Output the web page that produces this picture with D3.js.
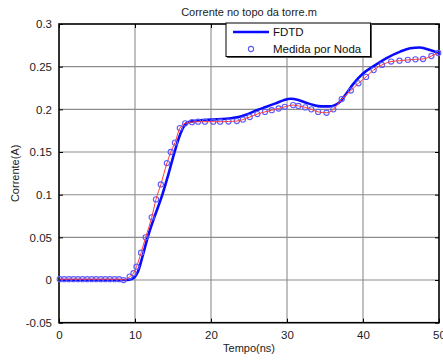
<!DOCTYPE html>
<html>
<head>
<meta charset="utf-8">
<script src="https://cdn.jsdelivr.net/npm/d3@7"></script>
<style>
  body { margin: 0; background: #fff; }
  svg { display: block; font-family: "Liberation Sans", Arial, sans-serif; }
</style>
</head>
<body>
<svg id="chart" width="443" height="360"></svg>
<script>
// FDTD curve (ns, A)
var fdtdT = [0, 9, 9.5, 10, 10.4, 11, 11.67, 12.6, 13.6, 14.4, 15.2, 16, 16.5, 17, 18, 20, 22, 24, 25, 26, 27.3, 28.5, 29.5, 30.5, 31.5, 32.6, 33.5, 34.5, 35.5, 36.3, 37, 37.7, 38.7, 40, 41.3, 43.1, 44.9, 46.2, 47.5, 48.8, 50];
var fdtdI = [0, 0, 0.001, 0.004, 0.01, 0.028, 0.05, 0.075, 0.1, 0.124, 0.15, 0.172, 0.181, 0.185, 0.1865, 0.188, 0.189, 0.192, 0.195, 0.199, 0.203, 0.207, 0.2105, 0.2125, 0.211, 0.2075, 0.205, 0.2035, 0.2035, 0.205, 0.209, 0.217, 0.2295, 0.242, 0.25, 0.26, 0.2676, 0.2715, 0.2725, 0.2695, 0.2655];

// Noda measurement samples (ns, A)
var nodaT = [0.1, 0.7, 1.3, 1.9, 2.5, 3.1, 3.7, 4.3, 4.9, 5.5, 6.1, 6.7, 7.3, 7.9, 8.5, 9.3, 9.8, 10.2, 10.8, 11.4, 12.2, 12.76, 13.4, 14.2, 14.7, 15.26, 15.9, 16.6, 17.5, 18.3, 19.2, 20.3, 21.2, 22.3, 23.4, 24.2, 25.1, 26.1, 27.1, 28.0, 28.9, 29.7, 30.8, 31.5, 32.4, 33.2, 34.1, 35.2, 36.1, 37.2, 38.4, 39.4, 40.4, 41.4, 42.5, 43.7, 44.8, 45.9, 46.9, 47.9, 49.0, 49.9];
var nodaI = [0.001, 0.001, 0.001, 0.001, 0.001, 0.001, 0.001, 0.001, 0.001, 0.001, 0.001, 0.001, 0.001, 0.001, 0.0, 0.004, 0.008, 0.0156, 0.032, 0.05, 0.0735, 0.0945, 0.112, 0.137, 0.15, 0.161, 0.178, 0.1836, 0.185, 0.1855, 0.1855, 0.1855, 0.1855, 0.1857, 0.1863, 0.188, 0.191, 0.1945, 0.197, 0.199, 0.201, 0.203, 0.205, 0.204, 0.2023, 0.2, 0.197, 0.196, 0.2, 0.212, 0.222, 0.2305, 0.238, 0.246, 0.252, 0.256, 0.257, 0.258, 0.2586, 0.259, 0.2625, 0.266];

var xTicks = [0, 10, 20, 30, 40, 50];
var yTicks = [-0.05, 0, 0.05, 0.1, 0.15, 0.2, 0.25, 0.3];

var svg = d3.select("#chart");
var pLeft = 59, pRight = 439, pTop = 24, pBottom = 322.7;

var x = d3.scaleLinear().domain([0, 50]).range([pLeft, pRight]);
var y = d3.scaleLinear().domain([-0.05, 0.3]).range([pBottom, pTop]);

// grid
svg.append("g").selectAll("line")
    .data(xTicks.slice(1, -1))
    .enter().append("line")
    .attr("x1", function (d) { return x(d); })
    .attr("x2", function (d) { return x(d); })
    .attr("y1", pTop).attr("y2", pBottom)
    .style("stroke", "#8c8c8c").style("stroke-width", 1.1);

svg.append("g").selectAll("line")
    .data(yTicks.slice(1, -1))
    .enter().append("line")
    .attr("x1", pLeft).attr("x2", pRight)
    .attr("y1", function (d) { return y(d); })
    .attr("y2", function (d) { return y(d); })
    .style("stroke", "#8c8c8c").style("stroke-width", 1.1);

// axes
var xAxis = d3.axisBottom(x).tickValues(xTicks).tickSize(-4).tickPadding(8)
    .tickFormat(d3.format("d"));
var yAxis = d3.axisLeft(y).tickValues(yTicks).tickSize(-4).tickPadding(7)
    .tickFormat(function (d) { return String(+d.toFixed(2)); });

var gx = svg.append("g").attr("transform", "translate(0," + pBottom + ")").call(xAxis);
var gy = svg.append("g").attr("transform", "translate(" + pLeft + ",0)").call(yAxis);
svg.append("g").attr("transform", "translate(0," + pTop + ")")
    .call(d3.axisTop(x).tickValues(xTicks).tickSize(-4).tickFormat(""));
svg.append("g").attr("transform", "translate(" + pRight + ",0)")
    .call(d3.axisRight(y).tickValues(yTicks).tickSize(-4).tickFormat(""));

svg.selectAll(".domain").remove();
svg.selectAll(".tick line").style("stroke", "#000");
[gx, gy].forEach(function (g) {
    g.selectAll("text").style("font-size", "11.5px").style("fill", "#222")
        .style("font-family", "Liberation Sans, Arial, sans-serif");
});

svg.append("rect")
    .attr("x", pLeft).attr("y", pTop)
    .attr("width", pRight - pLeft).attr("height", pBottom - pTop)
    .style("fill", "none").style("stroke", "#000").style("stroke-width", 1.6);

// lines
var fdtd = fdtdT.map(function (t, i) { return [t, fdtdI[i]]; });
var noda = nodaT.map(function (t, i) { return [t, nodaI[i]]; });

var line = d3.line()
    .x(function (d) { return x(d[0]); })
    .y(function (d) { return y(d[1]); })
    .curve(d3.curveMonotoneX);

svg.append("path").datum(fdtd)
    .attr("d", line)
    .style("fill", "none").style("stroke", "#0a0aff").style("stroke-width", 2.6);

svg.append("g").selectAll("circle")
    .data(noda)
    .enter().append("circle")
    .attr("cx", function (d) { return x(d[0]); })
    .attr("cy", function (d) { return y(d[1]); })
    .attr("r", 2.6)
    .style("fill", "none").style("stroke", "#5a5aff").style("stroke-width", 1.1);

svg.append("path").datum(noda)
    .attr("d", line)
    .style("fill", "none").style("stroke", "#ff3a3a").style("stroke-width", 1);

// legend
var lg = svg.append("g");
lg.append("rect").attr("x", 227).attr("y", 24).attr("width", 145).attr("height", 34)
    .style("fill", "#555");
lg.append("rect").attr("x", 226).attr("y", 23).attr("width", 144.5).attr("height", 33.5)
    .style("fill", "#fff").style("stroke", "#000").style("stroke-width", 1);
lg.append("line").attr("x1", 233).attr("x2", 269).attr("y1", 32).attr("y2", 32)
    .style("stroke", "#0a0aff").style("stroke-width", 2.6);
lg.append("circle").attr("cx", 251).attr("cy", 49).attr("r", 2.6)
    .style("fill", "none").style("stroke", "#5a5aff").style("stroke-width", 1.1);
lg.append("text").attr("x", 273).attr("y", 36).text("FDTD")
    .style("font-size", "11.5px").style("fill", "#111");
lg.append("text").attr("x", 273).attr("y", 53).text("Medida por Noda")
    .style("font-size", "11.5px").style("fill", "#111");

// titles
svg.append("text").attr("x", (pLeft + pRight) / 2).attr("y", 16)
    .attr("text-anchor", "middle").style("font-size", "11px").style("fill", "#222")
    .text("Corrente no topo da torre.m");
svg.append("text").attr("x", (pLeft + pRight) / 2).attr("y", 352)
    .attr("text-anchor", "middle").style("font-size", "11px").style("fill", "#222")
    .text("Tempo(ns)");
svg.append("text")
    .attr("transform", "translate(19," + ((pTop + pBottom) / 2) + ") rotate(-90)")
    .attr("text-anchor", "middle").style("font-size", "11px").style("fill", "#222")
    .text("Corrente(A)");
</script>
</body>
</html>
